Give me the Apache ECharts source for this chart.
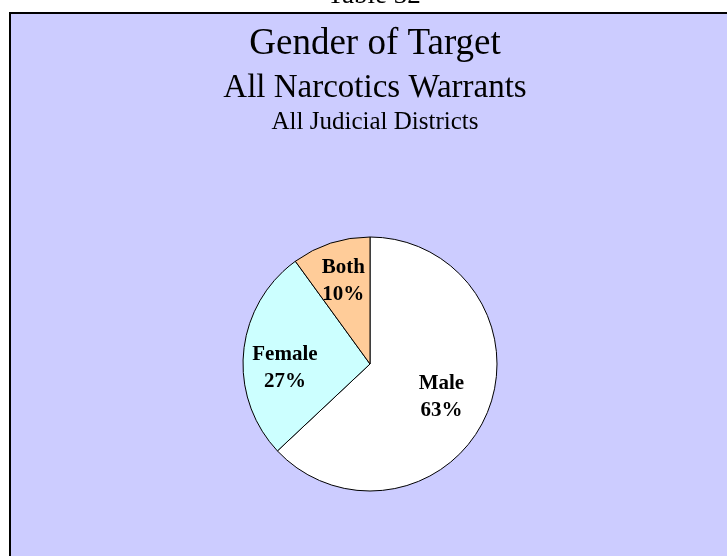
<!DOCTYPE html>
<html>
<head>
<meta charset="utf-8">
<script src="https://cdn.jsdelivr.net/npm/echarts@6/dist/echarts.min.js"></script>
<style>
  html, body { margin: 0; padding: 0; background: #fff; }
  #main { width: 727px; height: 556px; }
</style>
</head>
<body>
<div id="main"></div>
<script>
var categories = ['Male', 'Female', 'Both'];
var values = [63, 27, 10];
var sliceColors = ['#FFFFFF', '#CCFFFF', '#FFCC99'];

var serif = "'Liberation Serif', 'Times New Roman', serif";
var myChart = echarts.init(document.getElementById('main'));

// small hand nudges so the labels sit where the original puts them
var labelNudge = { Male: [-8, -1], Female: [1, 12], Both: [0, -1] };

function titleStyle(size) {
  return { fontFamily: serif, fontSize: size, fontWeight: 'normal', color: '#000' };
}

var option = {
  backgroundColor: '#FFFFFF',
  animation: false,
  graphic: [
    {
      type: 'rect',
      z: -10,
      shape: { x: 10, y: 13, width: 800, height: 600 },
      style: { fill: '#CCCCFF', stroke: '#000000', lineWidth: 2 }
    },
    {
      // page caption, mostly cut off at the top edge
      type: 'text',
      x: 374,
      y: -18,
      style: {
        text: 'Table 32',
        font: '27px ' + serif,
        fill: '#000',
        align: 'center',
        verticalAlign: 'top'
      }
    }
  ],
  title: [
    { text: 'Gender of Target', left: 375, top: 26, padding: 0, textAlign: 'center', textStyle: titleStyle(37) },
    { text: 'All Narcotics Warrants', left: 375, top: 72, padding: 0, textAlign: 'center', textStyle: titleStyle(33) },
    { text: 'All Judicial Districts', left: 375, top: 110, padding: 0, textAlign: 'center', textStyle: titleStyle(25) }
  ],
  series: [
    {
      type: 'pie',
      center: [370, 364],
      radius: [0, 127],
      startAngle: 90,
      clockwise: true,
      silent: true,
      label: { show: false },
      labelLine: { show: false },
      itemStyle: { borderColor: '#000', borderWidth: 1 },
      data: categories.map(function (name, i) {
        return { name: name, value: values[i], itemStyle: { color: sliceColors[i] } };
      })
    },
    {
      // transparent ring only used to place the labels further out
      type: 'pie',
      center: [370, 364],
      radius: [40, 127],
      startAngle: 90,
      clockwise: true,
      silent: true,
      itemStyle: { color: 'rgba(0,0,0,0)', borderWidth: 0 },
      label: {
        show: true,
        position: 'inside',
        formatter: '{b}\n{c}%',
        fontFamily: serif,
        fontWeight: 'bold',
        fontSize: 21,
        lineHeight: 27,
        color: '#000'
      },
      labelLine: { show: false },
      labelLayout: function (params) {
        var n = labelNudge[categories[params.dataIndex]];
        return { dx: n[0], dy: n[1] };
      },
      data: categories.map(function (name, i) { return { name: name, value: values[i] }; })
    }
  ]
};

myChart.setOption(option);
</script>
</body>
</html>
